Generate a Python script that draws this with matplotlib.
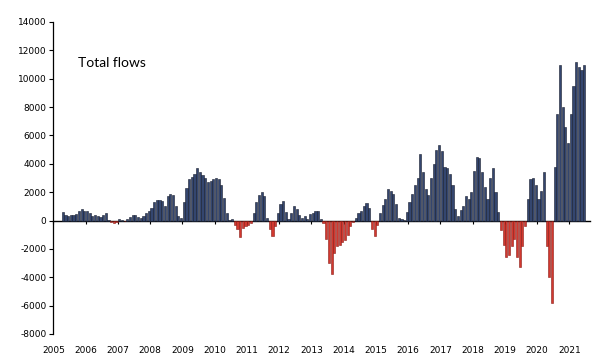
import numpy as np
import matplotlib
matplotlib.use("Agg")
import matplotlib.pyplot as plt

# Monthly total flows, Apr 2005 .. Jun 2021
start_year = 2005
start_month = 4
flows = [
    # 2005 (Apr-Dec)
    590, 380, 350, 360, 420, 470, 650, 780, 700,
    # 2006
    650, 520, 300, 400, 300, 250, 420, 500, 50, -100, -150, -120,
    # 2007
    80, 40, -30, 120, 250, 380, 420, 220, 150, 350, 550, 700,
    # 2008
    850, 1300, 1480, 1450, 1400, 1000, 1700, 1900, 1800, 1000, 350, 200,
    # 2009
    1300, 2300, 2900, 3100, 3300, 3700, 3400, 3200, 3000, 2750, 2800, 2900,
    # 2010
    3000, 2950, 2500, 1600, 500, 50, 100, -300, -600, -1150, -500, -350,
    # 2011
    -300, -150, 500, 1300, 1800, 2000, 1700, 200, -600, -1100, -400, 500,
    # 2012
    1200, 1350, 600, 100, 500, 1050, 800, 400, 150, 300, 100, 450,
    # 2013
    500, 650, 700, 100, -200, -1300, -3000, -3800, -2300, -1800, -1700, -1500,
    # 2014
    -1400, -1000, -400, -100, 200, 500, 700, 1000, 1250, 900, -600, -1100,
    # 2015
    -300, 500, 1100, 1500, 2200, 2100, 1900, 1200, 200, 100, 50, 600,
    # 2016
    1300, 1900, 2500, 3000, 4700, 3400, 2200, 1800, 3000, 4000, 5000, 5300,
    # 2017
    4900, 3800, 3700, 3300, 2500, 800, 300, 750, 1000, 1700, 1500, 2000,
    # 2018
    3500, 4500, 4400, 3400, 2400, 1500, 3000, 3700, 2000, 600, -700, -1700,
    # 2019
    -2600, -2400, -1800, -1300, -2600, -3300, -1800, -400, 1500, 2900, 3000, 2500,
    # 2020
    1500, 2100, 3400, -1800, -4000, -5800, 3800, 7500, 11000, 8000, 6600, 5500,
    # 2021 (Jan-Jun)
    7500, 9500, 11200, 10800, 10600, 11000,
]
years = list(range(2005, 2022))
yticks = list(range(-8000, 14001, 2000))

flows = np.array(flows)
t = start_year + (start_month - 1 + np.arange(len(flows)) + 0.5) / 12.0

navy = '#34466f'
red = '#d2382f'
colors = [navy if v >= 0 else red for v in flows]
edges = ['#161c2c' if v >= 0 else '#8a1d18' for v in flows]

fig = plt.figure(figsize=(6, 3.63), dpi=100)
ax = fig.add_axes([0.089, 0.0799, 0.895, 0.8595])

ax.bar(t, flows, width=1 / 12.0 * 0.8, color=colors, edgecolor=edges, linewidth=0.4)

ax.set_xlim(2005, 2021.65)
ax.set_ylim(-8000, 14000)
ax.set_yticks(yticks)
ax.set_yticklabels([str(v) for v in yticks], fontsize=6.5)
ax.tick_params(axis='y', length=3, width=0.8, pad=2)

# year labels at the bottom, tick marks on the zero line
ax.set_xticks(years)
ax.set_xticklabels([str(y) for y in years], fontsize=6.5)
ax.tick_params(axis='x', length=0, pad=9)

for side in ['top', 'right', 'bottom']:
    ax.spines[side].set_visible(False)
ax.spines['left'].set_linewidth(0.9)

zero = ax.secondary_xaxis(8000 / 22000.0)
zero.set_xticks(years)
zero.set_xticklabels([])
zero.tick_params(axis='x', length=2.5, width=0.8, direction='out')
zero.spines['bottom'].set_linewidth(1.0)

ax.text(0.045, 0.87, 'Total flows', transform=ax.transAxes, fontsize=10,
        family='Lato', va='center', ha='left')

fig.savefig('out.png', dpi=100)
